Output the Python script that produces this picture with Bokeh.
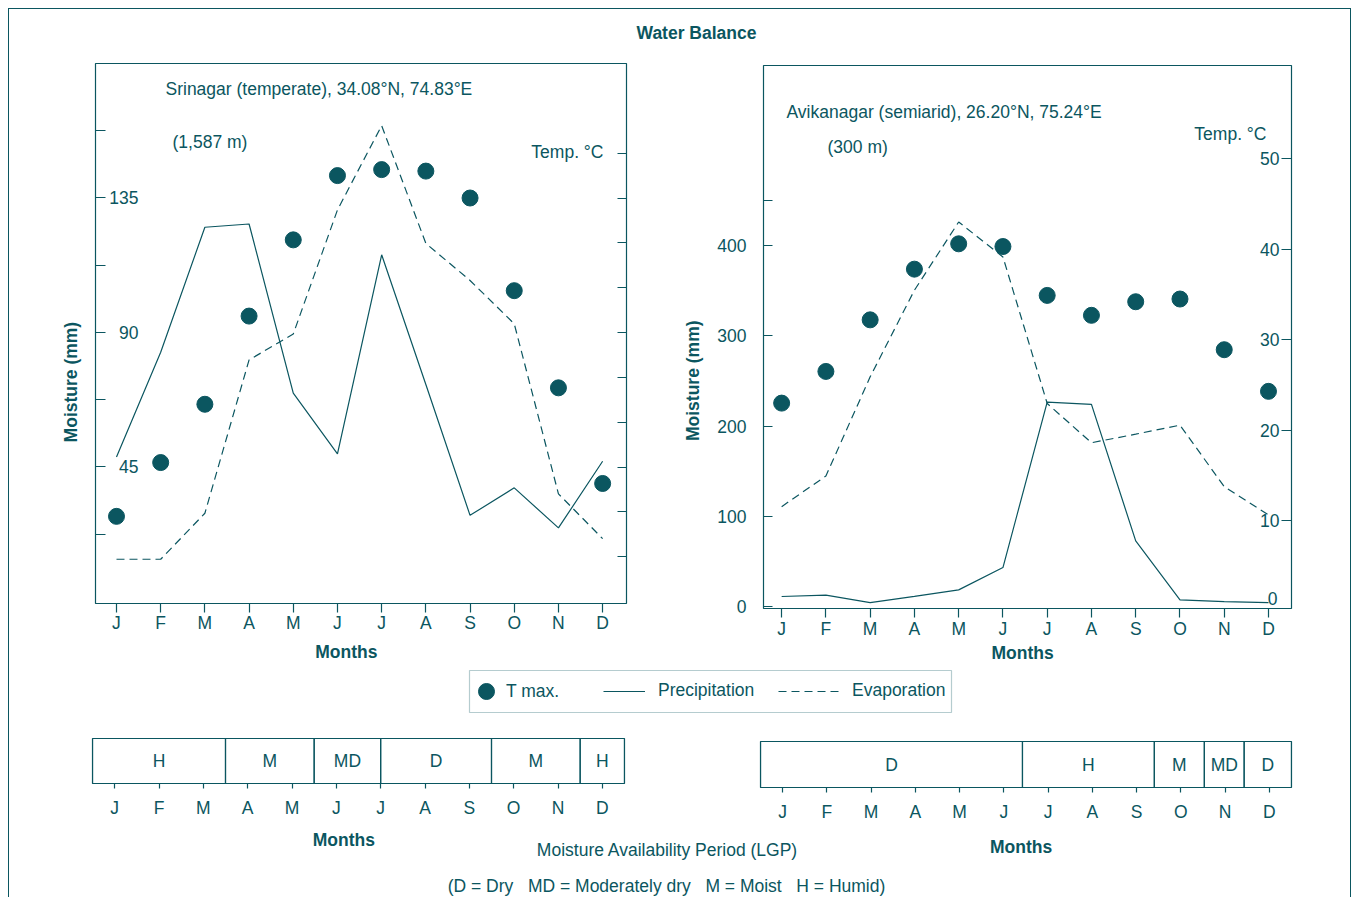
import math
from bokeh.plotting import figure
from bokeh.models import (Range1d, LinearAxis, FixedTicker, ColumnDataSource,
                          LabelSet, Legend, LegendItem, BoxAnnotation, Spacer)
from bokeh.layouts import column, row
from bokeh.embed import file_html
from bokeh.resources import INLINE
from bokeh.core.properties import value

# ---------------- data ----------------
months = ["J", "F", "M", "A", "M", "J", "J", "A", "S", "O", "N", "D"]

srinagar_tmax = [5.7, 9.3, 13.2, 19.1, 24.2, 28.5, 28.9, 28.8, 27.0, 20.8, 14.3, 7.9]
srinagar_precip = [48.3, 83.4, 125.2, 126.3, 69.7, 49.4, 116.0, 72.6, 28.8, 38.0, 24.6, 46.9]
srinagar_evap = [14.1, 14.1, 29.5, 80.8, 89.5, 131.0, 159.2, 119.8, 107.4, 92.9, 36.0, 21.0]

avika_tmax = [23.0, 26.5, 32.2, 37.8, 40.6, 40.3, 34.9, 32.7, 34.2, 34.5, 28.9, 24.3]
avika_precip = [10.9, 12.4, 4.2, 11.0, 18.3, 43.0, 226.6, 224.0, 72.6, 7.2, 5.3, 4.2]
avika_evap = [110.6, 144.6, 254.6, 350.7, 426.4, 387.6, 225.0, 181.5, 191.0, 201.0, 132.8, 101.4]

srinagar_moist_ticks = [22.5, 45, 67.5, 90, 112.5, 135, 157.5]
srinagar_moist_labels = [45, 90, 135]
srinagar_temp_ticks = [3, 6, 9, 12, 15, 18, 21, 24, 27, 30]
srinagar_temp_labels = [0, 3, 6, 9, 12, 15, 18, 21, 24, 27, 30]
avika_moist_ticks = [0, 100, 200, 300, 400, 450]
avika_moist_unlabeled = [450]
avika_temp_ticks = [10, 20, 30, 40, 50]
avika_temp_labels = [10, 20, 30, 40, 50]

lgp_srinagar_class = ["H", "M", "MD", "D", "M", "H"]
lgp_srinagar_start = [-0.5, 2.5, 4.5, 6.0, 8.5, 10.5]
lgp_srinagar_end = [2.5, 4.5, 6.0, 8.5, 10.5, 11.5]

lgp_avika_class = ["D", "H", "M", "MD", "D"]
lgp_avika_start = [-0.5, 5.42, 8.4, 9.53, 10.43]
lgp_avika_end = [5.42, 8.4, 9.53, 10.43, 11.5]

# ---------------- style ----------------
C = "#0b5660"
FONT = "Liberation Sans"
FS = "17.5px"
NB = "\u00a0"
x_idx = list(range(12))


def new_fig(w, h, lb, rb, tb, bb, xr, yr, outline=True, **kw):
    p = figure(width=w, height=h, x_range=xr, y_range=yr,
               x_axis_type=None, y_axis_type=None,
               toolbar_location=None, tools="", output_backend="svg",
               min_border_left=lb, min_border_right=rb,
               min_border_top=tb, min_border_bottom=bb, **kw)
    p.border_fill_color = None
    p.background_fill_color = None
    p.outline_line_color = C if outline else None
    p.outline_line_width = 1.2
    return p


def style_axis_label(ax, text, standoff):
    ax.axis_label = text
    ax.axis_label_standoff = standoff
    ax.axis_label_text_font = FONT
    ax.axis_label_text_font_size = FS
    ax.axis_label_text_font_style = "bold"
    ax.axis_label_text_color = C


def add_month_axis(p, tick_out, standoff, label, label_standoff):
    ax = LinearAxis(ticker=FixedTicker(ticks=x_idx),
                    major_label_overrides={i: m for i, m in enumerate(months)})
    ax.axis_line_color = None
    ax.major_tick_line_color = C
    ax.major_tick_line_width = 1.2
    ax.major_tick_in = 0
    ax.major_tick_out = tick_out
    ax.minor_tick_line_color = None
    ax.major_label_standoff = standoff
    ax.major_label_text_font = FONT
    ax.major_label_text_font_size = FS
    ax.major_label_text_color = C
    style_axis_label(ax, label, label_standoff)
    p.add_layout(ax, "below")


def add_y_axis(p, side, ticks, tick_in, range_name="default", show_labels=False,
               overrides=None, standoff=0, label=None, label_standoff=0):
    ax = LinearAxis(ticker=FixedTicker(ticks=ticks), y_range_name=range_name)
    ax.axis_line_color = None
    ax.major_tick_line_color = C
    ax.major_tick_line_width = 1.2
    ax.major_tick_in = tick_in
    ax.major_tick_out = 0
    ax.minor_tick_line_color = None
    ax.major_label_standoff = standoff
    ax.major_label_text_font = FONT
    ax.major_label_text_font_size = FS
    ax.major_label_text_color = C
    if show_labels:
        if overrides:
            ax.major_label_overrides = overrides
    else:
        ax.major_label_overrides = {t: "" for t in ticks}
    if label:
        style_axis_label(ax, label, label_standoff)
    p.add_layout(ax, side)


def add_tick_labels(p, xpos, vals, x_offset, range_name="default"):
    src = ColumnDataSource(dict(y=vals, text=[str(v) for v in vals]))
    p.add_layout(LabelSet(x=xpos, y="y", text="text", source=src,
                          x_offset=x_offset, y_range_name=range_name,
                          text_align="right", text_baseline="middle",
                          text_font=value(FONT), text_font_size=value(FS),
                          text_color=C))


def txt(p, sx, sy, text, bold=False, align="left", angle=0.0,
        x=None, y=None, range_name="default"):
    """Text placed sx, sy pixels from a data anchor (default: frame bottom-left)."""
    ax_ = p.x_range.start if x is None else x
    ay_ = p.y_range.start if y is None else y
    src = ColumnDataSource(dict(x=[ax_], y=[ay_], text=[text]))
    p.add_layout(LabelSet(x="x", y="y", text="text", source=src,
                          x_offset=sx, y_offset=sy, y_range_name=range_name,
                          text_font=value(FONT), text_font_size=value(FS),
                          text_color=C,
                          text_font_style="bold" if bold else "normal",
                          text_align=align, text_baseline="middle", angle=angle))


# ---------------- title ----------------
title_fig = new_fig(1351, 50, 0, 0, 0, 0, Range1d(0, 1), Range1d(0, 1), outline=False)
txt(title_fig, 696, 18, "Water Balance", bold=True, align="center")

# ---------------- Srinagar chart ----------------
xa = Range1d(-0.475, 11.54)
pa = new_fig(680, 614, 95, 54, 13, 61, xa, Range1d(-0.7, 180))
pa.extra_y_ranges = {"temp": Range1d(-0.13, 36.0)}
pa.line(x_idx, srinagar_precip, line_color=C, line_width=1.2)
pa.line(x_idx, srinagar_evap, line_color=C, line_width=1.2, line_dash="8 5")
pa.scatter(x_idx, srinagar_tmax, size=16, fill_color=C, line_color=C, y_range_name="temp")
add_month_axis(pa, 9, 0, "Months" + NB * 6, 6)
add_y_axis(pa, "left", srinagar_moist_ticks, 10, label="Moisture (mm)" + NB * 20, label_standoff=15)
add_y_axis(pa, "right", srinagar_temp_ticks, 9, range_name="temp")
add_tick_labels(pa, xa.start, srinagar_moist_labels, 43)
add_tick_labels(pa, xa.end, srinagar_temp_labels, 36, range_name="temp")
txt(pa, 70, 515, "Srinagar (temperate), 34.08°N, 74.83°E")
txt(pa, 77, 462, "(1,587 m)")
txt(pa, 508, 452, "Temp. °C", align="right")

# ---------------- Avikanagar chart ----------------
xb = Range1d(-0.41, 11.52)
pb = new_fig(671, 615, 82, 60, 13, 59, xb, Range1d(-2.4, 600))
pb.extra_y_ranges = {"temp": Range1d(0.31, 60.3)}
pb.line(x_idx, avika_precip, line_color=C, line_width=1.2)
pb.line(x_idx, avika_evap, line_color=C, line_width=1.2, line_dash="8 5")
pb.scatter(x_idx, avika_tmax, size=16, fill_color=C, line_color=C, y_range_name="temp")
add_month_axis(pb, 9, 1, "Months" + NB * 2, 1)
add_y_axis(pb, "left", avika_moist_ticks, 9, show_labels=True,
           overrides={v: "" for v in avika_moist_unlabeled}, standoff=17,
           label="Moisture (mm)" + NB * 18, label_standoff=11)
add_y_axis(pb, "right", avika_temp_ticks, 10, range_name="temp")
add_tick_labels(pb, xb.end, avika_temp_labels, -12, range_name="temp")
txt(pb, -14, 13, "0", align="right", x=xb.end, y=0, range_name="temp")
txt(pb, 23, 497, "Avikanagar (semiarid), 26.20°N, 75.24°E")
txt(pb, 64, 462, "(300 m)")
txt(pb, 503, 475, "Temp. °C", align="right")

# ---------------- legend ----------------
leg_fig = new_fig(1351, 53, 0, 0, 0, 0, Range1d(0, 1351), Range1d(0, 53), outline=False)
leg_fig.extra_y_ranges = {"off": Range1d(-100, -99)}
r1 = leg_fig.scatter(x_idx, srinagar_tmax, size=16, fill_color=C, line_color=C, y_range_name="off")
r2 = leg_fig.line(x_idx, srinagar_precip, line_color=C, line_width=1.2, y_range_name="off")
r3 = leg_fig.line(x_idx, srinagar_evap, line_color=C, line_width=1.2, line_dash="8 5",
                  y_range_name="off")
leg_fig.add_layout(BoxAnnotation(left=469, right=951, bottom=8, top=50,
                                 fill_color=None, line_color=C, line_width=1.2))


def add_legend(p, label, rend, loc, gw, gh, standoff):
    lg = Legend(items=[LegendItem(label=value(label), renderers=[rend])],
                location=loc, orientation="horizontal",
                glyph_width=gw, glyph_height=gh, label_height=20,
                label_standoff=standoff, spacing=0, padding=0, margin=0,
                border_line_color=None, background_fill_alpha=0,
                label_text_font=FONT, label_text_font_size=FS, label_text_color=C)
    p.add_layout(lg)


add_legend(leg_fig, "T max.", r1, (466, 9), 40, 40, 0)
add_legend(leg_fig, "Precipitation", r2, (603, 19), 42, 20, 13)
add_legend(leg_fig, "Evaporation", r3, (778, 19), 62, 20, 12)


# ---------------- LGP bars ----------------
def lgp_fig(w, h, lb, rb, frame_h, classes, starts, ends, label, label_standoff):
    p = new_fig(w, h, lb, rb, 18, h - 18 - frame_h, Range1d(-0.5, 11.5), Range1d(0, 1))
    p.quad(left=starts, right=ends, bottom=0, top=1, fill_color=None,
           line_color=C, line_width=1.2)
    centers = [(a + b) / 2 for a, b in zip(starts, ends)]
    p.text(x=centers, y=[0.5] * len(centers), text=classes,
           text_align="center", text_baseline="middle",
           text_font=value(FONT), text_font_size=value(FS), text_color=C)
    add_month_axis(p, 5, 9, label, label_standoff)
    return p


lgp_a = lgp_fig(680, 136, 92, 56, 45, lgp_srinagar_class, lgp_srinagar_start,
                lgp_srinagar_end, "Months" + NB * 6, 9)
lgp_b = lgp_fig(671, 137, 80, 60, 46, lgp_avika_class, lgp_avika_start,
                lgp_avika_end, "Months" + NB * 2, 12)

# ---------------- bottom notes ----------------
note_fig = new_fig(1351, 62, 0, 0, 0, 0, Range1d(0, 1), Range1d(0, 1), outline=False,
                   margin=(-25, 0, 0, 0))
sp = NB * 3
txt(note_fig, 667, 48, "Moisture Availability Period (LGP)", align="center")
txt(note_fig, 666, 12, "(D = Dry" + sp + "MD = Moderately dry" + sp + "M = Moist" + sp + "H = Humid)",
    align="center")

frame_lines = ("inset 8px 0 0 0 #ffffff, inset 0 8px 0 0 #ffffff, "
               "inset 9px 0 0 0 {c}, inset 0 9px 0 0 {c}, inset -1px 0 0 0 {c}").format(c=C)
layout = column(title_fig,
                row(pa, column(Spacer(width=671, height=2), pb)),
                leg_fig,
                row(lgp_a, column(Spacer(width=671, height=3), lgp_b)),
                note_fig,
                styles={"box-shadow": frame_lines})

open("out.html", "w").write(file_html(layout, INLINE))
